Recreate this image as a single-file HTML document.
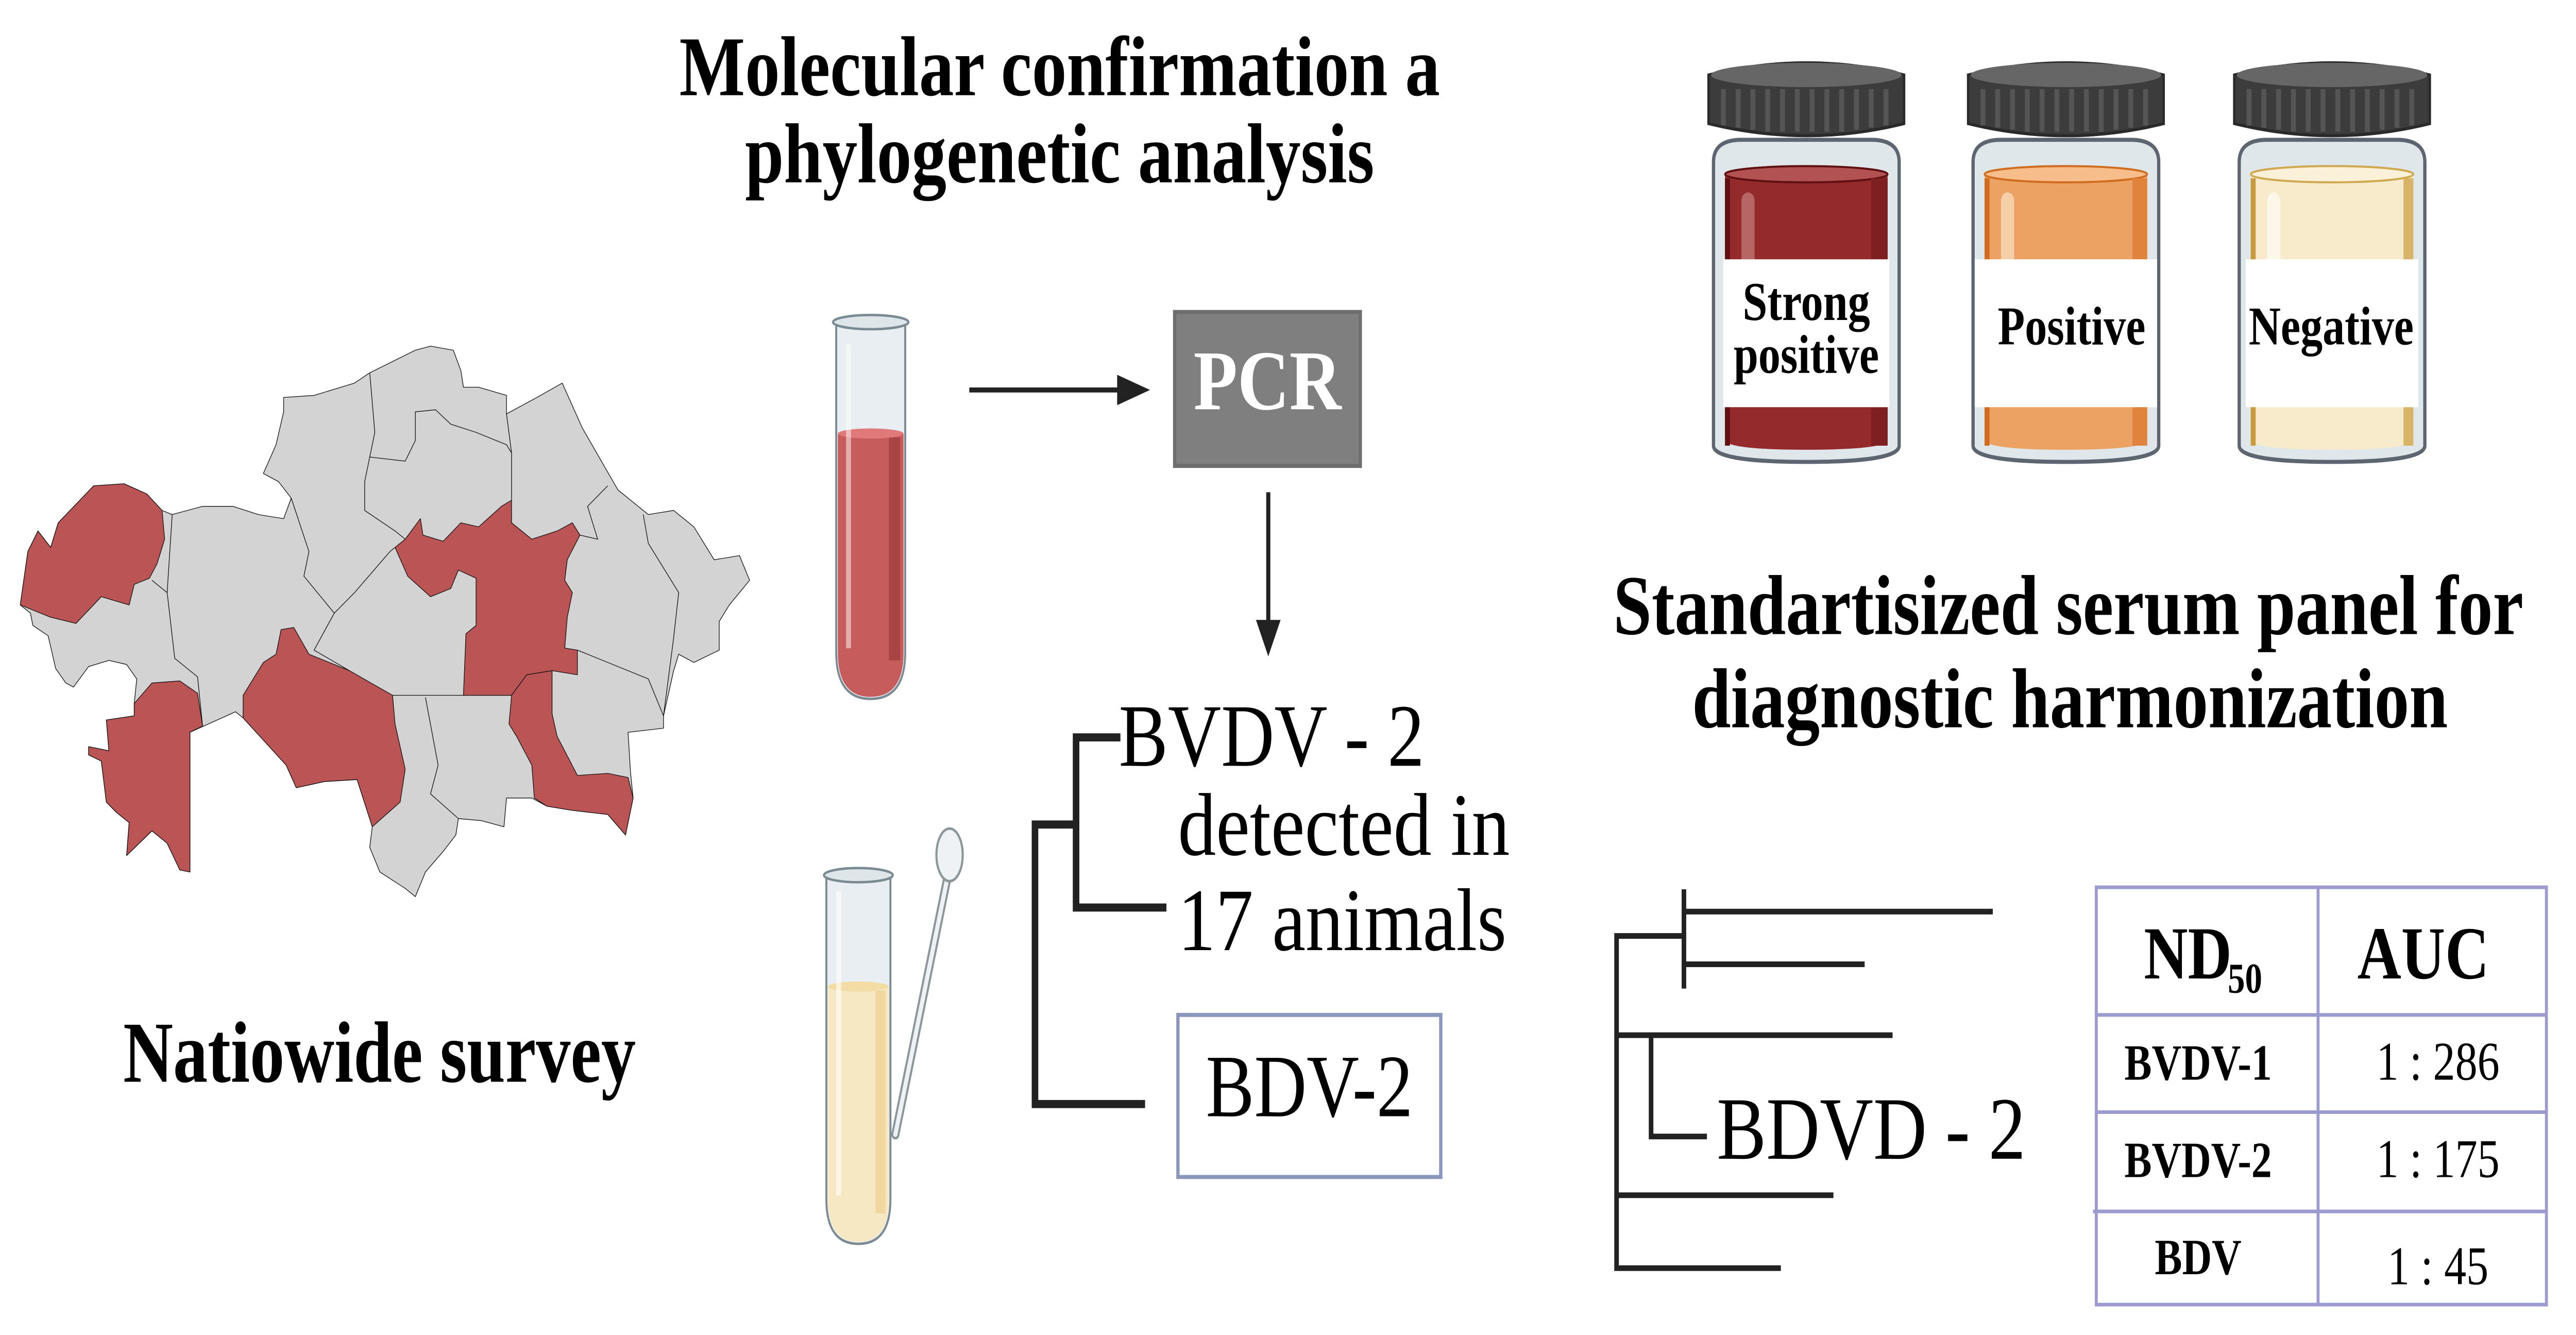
<!DOCTYPE html>
<html><head><meta charset="utf-8"><style>
html,body{margin:0;padding:0;background:#fff;width:100%;height:100%;overflow:hidden;}
svg{display:block;position:fixed;left:0;top:0;width:100vw;height:100vh;}
text{font-family:"Liberation Serif",serif;}
</style></head><body>
<svg xmlns="http://www.w3.org/2000/svg" viewBox="0 0 1568 659" preserveAspectRatio="none">
<defs>
<g id="cap">
 <path d="M0,34 L0,10 Q60,-2 119,10 L119,34 Q60,46 0,34 Z" fill="#3c3c3c" stroke="#2a2a2a" stroke-width="1.5"/>
 <ellipse cx="59.5" cy="10" rx="58" ry="6" fill="#666"/>
 <g stroke="#555" stroke-width="3">
  <line x1="9" y1="17" x2="9" y2="35"/><line x1="18" y1="17" x2="18" y2="36"/><line x1="27" y1="17" x2="27" y2="37"/><line x1="36" y1="17" x2="36" y2="38"/><line x1="45" y1="17" x2="45" y2="38"/><line x1="54" y1="17" x2="54" y2="38"/><line x1="63" y1="17" x2="63" y2="38"/><line x1="72" y1="17" x2="72" y2="38"/><line x1="81" y1="17" x2="81" y2="38"/><line x1="90" y1="17" x2="90" y2="37"/><line x1="99" y1="17" x2="99" y2="36"/><line x1="108" y1="17" x2="108" y2="35"/>
 </g>
</g>
</defs>

<text x="645" y="47" font-size="42" font-weight="bold" text-anchor="middle" textLength="463" lengthAdjust="spacingAndGlyphs">Molecular confirmation a</text>
<text x="645" y="90" font-size="42" font-weight="bold" text-anchor="middle" textLength="383" lengthAdjust="spacingAndGlyphs">phylogenetic analysis</text>
<text x="231" y="534" font-size="43" font-weight="bold" text-anchor="middle" textLength="312" lengthAdjust="spacingAndGlyphs">Natiowide survey</text>
<text x="1259" y="313" font-size="42" font-weight="bold" text-anchor="middle" textLength="554" lengthAdjust="spacingAndGlyphs">Standartisized serum panel for</text>
<text x="1260" y="359" font-size="42" font-weight="bold" text-anchor="middle" textLength="460" lengthAdjust="spacingAndGlyphs">diagnostic harmonization</text>

<g transform="translate(0,152.6) scale(0.3083,0.2028)" stroke="#111" stroke-width="1.3" stroke-linejoin="round">
 <path vector-effect="non-scaling-stroke" fill="#d3d3d3" d="M40,720 L55,590 L75,540 L100,580 L115,520 L185,430 L245,425 L290,450 L320,490 L340,500 L400,480 L460,480 L510,500 L560,510 L575,460 L550,420 L520,400 L545,330 L560,250 L560,215 L620,210 L700,180 L730,155 L820,100 L850,90 L895,100 L910,150 L915,190 L945,190 L1000,210 L1000,255 L1060,215 L1110,180 L1150,290 L1220,440 L1245,465 L1280,500 L1330,490 L1370,530 L1410,610 L1460,600 L1480,660 L1440,720 L1420,760 L1420,830 L1370,860 L1340,840 L1330,880 L1310,990 L1310,1020 L1240,1030 L1245,1130 L1250,1190 L1235,1280 L1200,1230 L1130,1220 L1080,1210 L1050,1190 L1000,1190 L995,1260 L950,1245 L905,1240 L900,1280 L875,1320 L840,1370 L820,1430 L800,1410 L750,1370 L730,1310 L735,1260 L705,1145 L640,1150 L585,1165 L565,1110 L480,995 L465,980 L375,1030 L375,1370 L355,1365 L330,1300 L300,1270 L250,1330 L255,1250 L230,1225 L210,1200 L200,1100 L175,1085 L175,1065 L215,1075 L210,1000 L265,990 L265,960 L270,900 L250,865 L215,855 L175,870 L145,920 L130,910 L110,875 L95,795 L65,770 L60,740 Z"/>
 <g fill="none">
  <path vector-effect="non-scaling-stroke" d="M575,460 L610,590 L600,650 L660,740 L620,830"/>
  <path vector-effect="non-scaling-stroke" d="M660,740 L700,690 L770,590 L780,580"/>
  <path vector-effect="non-scaling-stroke" d="M730,155 L740,300 L720,420 L720,490 L780,540 L800,560"/>
  <path vector-effect="non-scaling-stroke" d="M730,360 L800,370 L820,320 L820,250 L860,245 L890,280 L940,300 L1000,330 L1010,350 L1010,465"/>
  <path vector-effect="non-scaling-stroke" d="M1000,255 L1010,350"/>
  <path vector-effect="non-scaling-stroke" d="M1200,430 L1160,480 L1180,560 L1145,550"/>
  <path vector-effect="non-scaling-stroke" d="M1270,500 L1280,570 L1340,690 L1330,800 L1310,990"/>
  <path vector-effect="non-scaling-stroke" d="M1140,830 L1200,860 L1280,900 L1310,990"/>
  <path vector-effect="non-scaling-stroke" d="M775,940 L1010,940"/>
  <path vector-effect="non-scaling-stroke" d="M840,945 L865,1110 L850,1180 L905,1240"/>
  <path vector-effect="non-scaling-stroke" d="M340,500 L330,690 L345,850 L390,895 L400,1015"/>
  <path vector-effect="non-scaling-stroke" d="M300,660 L330,690"/>
  <path vector-effect="non-scaling-stroke" d="M620,830 L690,880"/>
 </g>
 <g fill="#bb5454">
  <path vector-effect="non-scaling-stroke" d="M40,720 L55,590 L75,540 L100,580 L115,520 L185,430 L245,425 L290,450 L320,490 L325,560 L310,620 L295,655 L265,670 L255,720 L200,700 L150,765 L100,750 Z"/>
  <path vector-effect="non-scaling-stroke" d="M175,1065 L215,1075 L210,1000 L265,990 L265,960 L300,910 L355,905 L390,935 L400,1015 L375,1030 L375,1370 L355,1365 L330,1300 L300,1270 L250,1330 L255,1250 L230,1225 L210,1200 L200,1100 L175,1085 Z"/>
  <path vector-effect="non-scaling-stroke" d="M480,940 L520,860 L545,840 L555,780 L580,775 L610,840 L690,880 L775,940 L780,1010 L800,1120 L790,1200 L735,1260 L705,1145 L640,1150 L585,1165 L565,1110 L480,995 Z"/>
  <path vector-effect="non-scaling-stroke" d="M780,580 L800,560 L830,510 L835,550 L875,565 L910,520 L945,530 L990,480 L1010,465 L1010,520 L1050,560 L1100,540 L1130,520 L1145,550 L1120,610 L1115,660 L1130,690 L1120,750 L1115,825 L1140,830 L1140,890 L1090,880 L1040,890 L1010,940 L915,940 L920,790 L940,770 L940,655 L905,635 L890,680 L850,700 L805,650 Z"/>
  <path vector-effect="non-scaling-stroke" d="M1010,940 L1040,890 L1090,880 L1090,985 L1100,1040 L1140,1135 L1200,1130 L1240,1140 L1250,1190 L1235,1280 L1200,1230 L1130,1220 L1080,1210 L1055,1190 L1050,1110 L1020,1040 L1005,1010 Z"/>
 </g>
</g>

<g>
 <path d="M509,160 L551,160 L551,322 Q551,345 530,345 Q509,345 509,322 Z" fill="#e8eef1" stroke="#7a8a92" stroke-width="1.2"/>
 <path d="M510,214 L550,214 L550,322 Q550,344 530,344 Q510,344 510,322 Z" fill="#c65c5c"/>
 <ellipse cx="530" cy="214" rx="20" ry="2.5" fill="#e07a7a"/>
 <rect x="541" y="216" width="7" height="110" fill="#a84444"/>
 <rect x="515" y="170" width="3" height="150" fill="#fff" opacity="0.5"/>
 <ellipse cx="530" cy="159" rx="23" ry="3.5" fill="#dfe6ea" stroke="#7a8a92" stroke-width="1.2"/>
</g>

<line x1="590" y1="192.5" x2="682" y2="192.5" stroke="#222" stroke-width="2.5"/>
<polygon points="680,185 700,192.5 680,200" fill="#222"/>
<rect x="715" y="154" width="113" height="76" fill="#7f7f7f" stroke="#6e6e6e" stroke-width="2"/>
<text x="771.5" y="202" font-size="42" font-weight="bold" fill="#fff" text-anchor="middle" textLength="90" lengthAdjust="spacingAndGlyphs">PCR</text>
<line x1="772" y1="243" x2="772" y2="308" stroke="#222" stroke-width="2.5"/>
<polygon points="764.5,306 772,324 779.5,306" fill="#222"/>

<g stroke="#222" stroke-width="4" fill="none">
 <path d="M682,364 L655,364 L655,448 L710,448"/>
 <path d="M655,407 L630,407 L630,545 L697,545"/>
</g>
<text x="681" y="378" font-size="44" textLength="186" lengthAdjust="spacingAndGlyphs">BVDV - 2</text>
<text x="717" y="422" font-size="44" textLength="202" lengthAdjust="spacingAndGlyphs">detected in</text>
<text x="717" y="469" font-size="44" textLength="200" lengthAdjust="spacingAndGlyphs">17 animals</text>
<rect x="717" y="501" width="160" height="80" fill="#fff" stroke="#8a97bd" stroke-width="2"/>
<text x="797" y="551" font-size="44" text-anchor="middle" textLength="126" lengthAdjust="spacingAndGlyphs">BDV-2</text>

<g>
 <line x1="545" y1="560" x2="578" y2="428" stroke="#8c979c" stroke-width="5" stroke-linecap="round"/>
 <line x1="545" y1="560" x2="578" y2="428" stroke="#eef2f4" stroke-width="2.5" stroke-linecap="round"/>
 <ellipse cx="578" cy="422" rx="8" ry="13" fill="#eef2f4" stroke="#8c979c" stroke-width="1.3"/>
 <path d="M503,433 L542,433 L542,592 Q542,614 522.5,614 Q503,614 503,592 Z" fill="#e8eef1" stroke="#7a8a92" stroke-width="1.2"/>
 <path d="M504,487 L541,487 L541,592 Q541,613 522.5,613 Q504,613 504,592 Z" fill="#f7e8c4"/>
 <ellipse cx="522.5" cy="487" rx="18.5" ry="2.5" fill="#f3dca6"/>
 <rect x="533" y="489" width="6" height="110" fill="#efd79f"/>
 <rect x="509" y="440" width="3" height="150" fill="#fff" opacity="0.6"/>
 <ellipse cx="522.5" cy="432" rx="21" ry="3.5" fill="#dfe6ea" stroke="#7a8a92" stroke-width="1.2"/>
</g>

<g transform="translate(1040,0)">
 <path d="M3,80 Q3,69 20,69 L99,69 Q116,69 116,80 L116,220 Q116,228 59.5,228 Q3,228 3,220 Z" fill="#dfe7eb" stroke="#5d6670" stroke-width="2"/>
 <path d="M10,86 L109,86 L109,217 Q109,222 59.5,222 Q10,222 10,217 Z" fill="#952a2d"/>
 <ellipse cx="59.5" cy="86" rx="49.5" ry="4" fill="#b35252" stroke="#5e1012" stroke-width="1"/>
 <rect x="10" y="88" width="3" height="132" fill="#5e1012"/>
 <rect x="99" y="88" width="10" height="132" fill="#7e1f22"/>
 <rect x="20" y="95" width="8" height="40" rx="4" fill="#b76666"/>
 <rect x="9" y="128" width="101" height="73" fill="#fff"/>
 <use href="#cap" x="0" y="27"/>
 <text x="59.5" y="158" font-size="27" font-weight="bold" text-anchor="middle">Strong</text>
 <text x="59.5" y="184" font-size="27" font-weight="bold" text-anchor="middle">positive</text>
</g>
<g transform="translate(1198,0)">
 <path d="M3,80 Q3,69 20,69 L99,69 Q116,69 116,80 L116,220 Q116,228 59.5,228 Q3,228 3,220 Z" fill="#dfe7eb" stroke="#5d6670" stroke-width="2"/>
 <path d="M10,86 L109,86 L109,217 Q109,222 59.5,222 Q10,222 10,217 Z" fill="#eca263"/>
 <ellipse cx="59.5" cy="86" rx="49.5" ry="4" fill="#f7bd8a" stroke="#d06c20" stroke-width="1"/>
 <rect x="10" y="88" width="3" height="132" fill="#d06c20"/>
 <rect x="100" y="88" width="9" height="132" fill="#e0843d"/>
 <rect x="20" y="95" width="8" height="40" rx="4" fill="#f6cfa8"/>
 <rect x="4" y="128" width="111" height="73" fill="#fff"/>
 <use href="#cap" x="0" y="27"/>
 <text x="63" y="170" font-size="27" font-weight="bold" text-anchor="middle">Positive</text>
</g>
<g transform="translate(1360,0)">
 <path d="M3,80 Q3,69 20,69 L99,69 Q116,69 116,80 L116,220 Q116,228 59.5,228 Q3,228 3,220 Z" fill="#dfe7eb" stroke="#5d6670" stroke-width="2"/>
 <path d="M10,86 L109,86 L109,217 Q109,222 59.5,222 Q10,222 10,217 Z" fill="#f8ebcb"/>
 <ellipse cx="59.5" cy="86" rx="49.5" ry="4" fill="#fbf1d8" stroke="#d0a850" stroke-width="1"/>
 <rect x="10" y="88" width="3" height="132" fill="#c99a3c"/>
 <rect x="103" y="88" width="6" height="132" fill="#d7b468"/>
 <rect x="20" y="95" width="8" height="40" rx="4" fill="#fdf7ea"/>
 <rect x="7" y="128" width="105" height="73" fill="#fff"/>
 <use href="#cap" x="0" y="27"/>
 <text x="59" y="170" font-size="27" font-weight="bold" text-anchor="middle">Negative</text>
</g>

<g stroke="#222" stroke-width="2.8" fill="none">
 <path d="M1025,462 L984,462 L984,626 L1084,626"/>
 <path d="M1025,439 L1025,488"/>
 <path d="M1025,450 L1213,450"/>
 <path d="M1025,476 L1135,476"/>
 <path d="M984,511 L1152,511"/>
 <path d="M1005,511 L1005,561 L1039,561"/>
 <path d="M984,590 L1116,590"/>
</g>
<text x="1045" y="572" font-size="44" textLength="188" lengthAdjust="spacingAndGlyphs">BDVD - 2</text>

<g stroke="#9b9bd0" stroke-width="1.8" fill="none">
 <rect x="1276" y="438" width="274" height="206" fill="#fff"/>
 <line x1="1411" y1="438" x2="1411" y2="644"/>
 <line x1="1276" y1="501" x2="1550" y2="501"/>
 <line x1="1276" y1="549" x2="1550" y2="549"/>
 <line x1="1274" y1="598" x2="1550" y2="598"/>
</g>
<text x="1305" y="483" font-size="37" font-weight="bold">ND</text>
<text x="1356" y="490" font-size="21" font-weight="bold">50</text>
<text x="1475" y="483" font-size="37" font-weight="bold" text-anchor="middle">AUC</text>
<text x="1338" y="533" font-size="25" font-weight="bold" text-anchor="middle">BVDV-1</text>
<text x="1338" y="581" font-size="25" font-weight="bold" text-anchor="middle">BVDV-2</text>
<text x="1338" y="629" font-size="25" font-weight="bold" text-anchor="middle">BDV</text>
<text x="1484" y="533" font-size="27" text-anchor="middle">1 : 286</text>
<text x="1484" y="581" font-size="27" text-anchor="middle">1 : 175</text>
<text x="1484" y="634" font-size="27" text-anchor="middle">1 : 45</text>
</svg>
</body></html>
